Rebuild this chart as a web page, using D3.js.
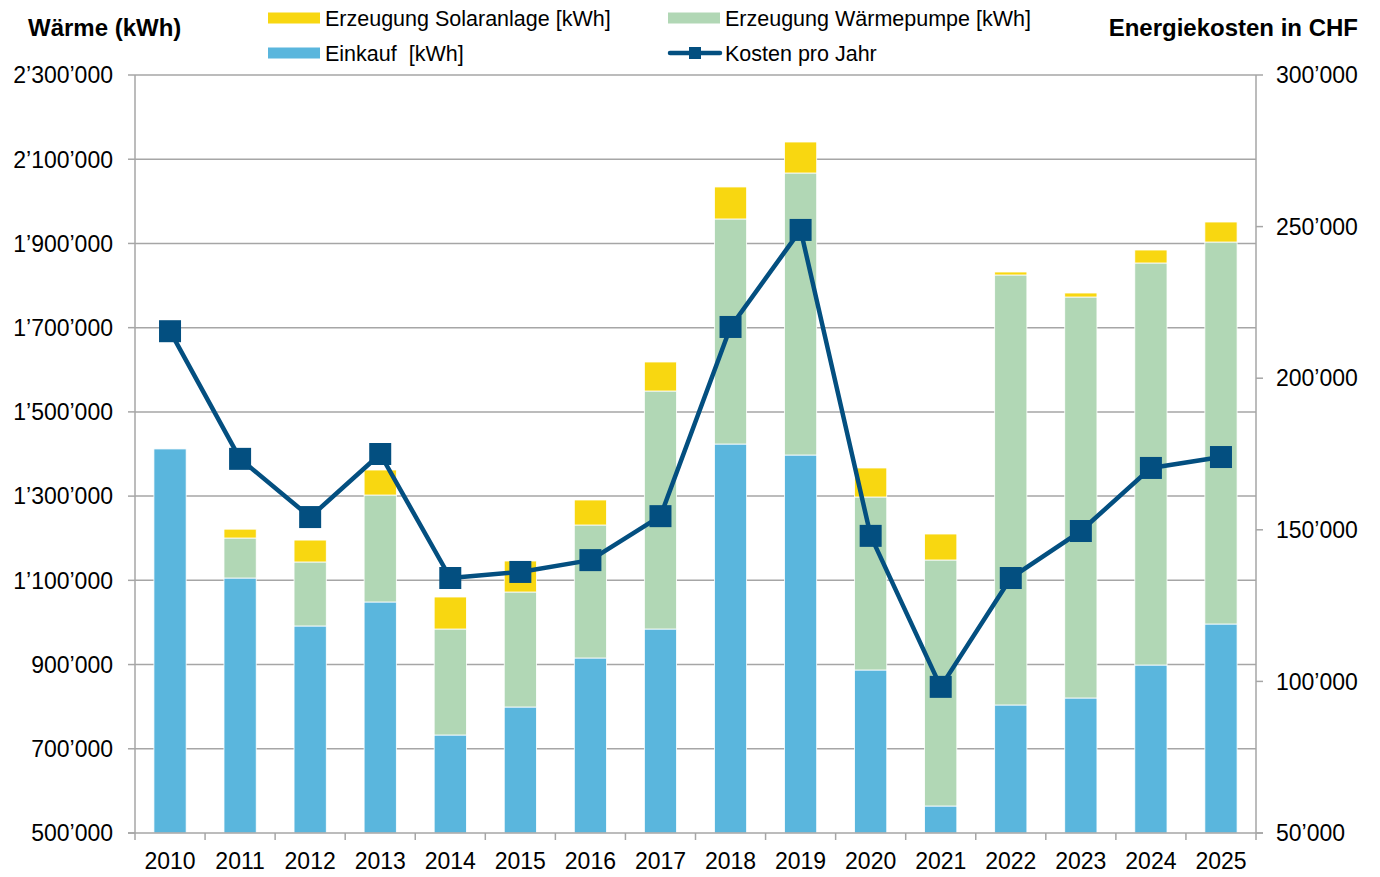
<!DOCTYPE html>
<html><head><meta charset="utf-8">
<script src="https://cdn.jsdelivr.net/npm/d3@7"></script>
<style>body{margin:0;background:#fff;font-family:"Liberation Sans",Arial,sans-serif;}</style>
</head><body><svg id="c" width="1380" height="877"></svg>
<script>
const years = ["2010","2011","2012","2013","2014","2015","2016","2017","2018","2019","2020","2021","2022","2023","2024","2025"];
const einkauf = [1412000,1105500,991600,1048600,732700,799200,915600,984400,1423700,1397600,887100,564100,804000,820600,898900,996300];
const waermepumpe = [0,95000,152000,254000,251700,273100,315800,565200,534400,669700,410800,584200,1021100,952200,954700,907100];
const solar = [0,21000,52000,59400,76000,73600,59400,68900,76000,73600,68900,61700,7100,9500,30800,47500];
const kosten = [215500,173400,154200,175000,134100,136100,140000,154500,216900,248900,148000,98200,134100,149600,170400,174000];
const leftTicks = [500000,700000,900000,1100000,1300000,1500000,1700000,1900000,2100000,2300000];
const rightTicks = [50000,100000,150000,200000,250000,300000];

const svg = d3.select("#c");
const L = 135, R = 1256, T = 75, B = 833;
const fmt = v => d3.format(",")(v).replace(/,/g, "\u2019");
const x = d3.scaleBand().domain(years).range([L, R]).paddingInner(0.54).paddingOuter(0.27);
const yL = d3.scaleLinear().domain([500000, 2300000]).range([B, T]);
const yR = d3.scaleLinear().domain([50000, 300000]).range([B, T]);
const xc = d3.scaleBand().domain(years).range([L, R]);
const yMin = yL.domain()[0];

// gridlines
svg.append("g").selectAll("line").data(leftTicks.slice(1)).join("line")
  .attr("x1", L).attr("x2", R).attr("y1", d => yL(d)).attr("y2", d => yL(d))
  .attr("stroke", "#a6a6a6").attr("stroke-width", 1.5);

// stacked bars
const stackData = years.map((y, i) => ({year: y, e: einkauf[i], w: waermepumpe[i], s: solar[i]}));
const stack = d3.stack().keys(["e","w","s"])(stackData);
const colors = {e: "#5ab6dd", w: "#b1d7b5", s: "#f8d711"};
svg.append("g").selectAll("g").data(stack).join("g").attr("fill", d => colors[d.key])
  .selectAll("rect").data(d => d.filter(s => s[1] - s[0] > 0)).join("rect")
  .attr("x", d => x(d.data.year)).attr("width", x.bandwidth())
  .attr("y", d => yL(d[1])).attr("height", d => yL(Math.max(d[0], yMin)) - yL(d[1]))
  .attr("stroke", "#ffffff").attr("stroke-width", 0.8);

// axes lines
const ax = svg.append("g").attr("stroke", "#a6a6a6").attr("stroke-width", 1.5);
ax.append("line").attr("x1", L).attr("x2", L).attr("y1", T).attr("y2", B);
ax.append("line").attr("x1", R).attr("x2", R).attr("y1", T).attr("y2", B);
ax.append("line").attr("x1", L - 7).attr("x2", R + 7).attr("y1", B).attr("y2", B);
ax.selectAll(".lt").data(leftTicks).join("line").attr("x1", L - 7).attr("x2", L).attr("y1", d => yL(d)).attr("y2", d => yL(d));
ax.selectAll(".rt").data(rightTicks).join("line").attr("x1", R).attr("x2", R + 7).attr("y1", d => yR(d)).attr("y2", d => yR(d));
ax.selectAll(".xt").data(years.concat(["end"])).join("line")
  .attr("x1", (d, i) => L + i * xc.bandwidth()).attr("x2", (d, i) => L + i * xc.bandwidth())
  .attr("y1", B).attr("y2", B + 7);

// tick labels
svg.append("g").selectAll("text").data(leftTicks).join("text")
  .attr("x", 113).attr("y", d => yL(d)).attr("dy", "0.36em").attr("text-anchor", "end")
  .attr("font-size", 23).attr("fill", "#000").text(fmt);
svg.append("g").selectAll("text").data(rightTicks).join("text")
  .attr("x", 1276).attr("y", d => yR(d)).attr("dy", "0.36em").attr("text-anchor", "start")
  .attr("font-size", 23).attr("fill", "#000").text(fmt);
svg.append("g").selectAll("text").data(years).join("text")
  .attr("x", d => xc(d) + xc.bandwidth() / 2).attr("y", 869).attr("text-anchor", "middle")
  .attr("font-size", 23).attr("fill", "#000").text(d => d);

// line
const lineColor = "#034f80";
const pts = years.map((y, i) => [xc(y) + xc.bandwidth() / 2, yR(kosten[i])]);
svg.append("path").attr("d", d3.line()(pts)).attr("fill", "none")
  .attr("stroke", lineColor).attr("stroke-width", 4.5).attr("stroke-linejoin", "round");
svg.append("g").selectAll("rect").data(pts).join("rect")
  .attr("x", d => d[0] - 11).attr("y", d => d[1] - 11).attr("width", 22).attr("height", 22)
  .attr("fill", lineColor);

// titles
svg.append("text").attr("x", 28).attr("y", 36).attr("font-size", 24).attr("font-weight", "bold").text("Wärme (kWh)");
svg.append("text").attr("x", 1358).attr("y", 36).attr("text-anchor", "end").attr("font-size", 24).attr("font-weight", "bold").text("Energiekosten in CHF");

// legend
const leg = svg.append("g").attr("font-size", 21.5);
const items = [
  {t: "Erzeugung Solaranlage [kWh]", c: colors.s, x: 268, y: 18, type: "rect"},
  {t: "Erzeugung Wärmepumpe [kWh]", c: colors.w, x: 668, y: 18, type: "rect"},
  {t: "Einkauf  [kWh]", c: colors.e, x: 268, y: 53, type: "rect"},
  {t: "Kosten pro Jahr", c: lineColor, x: 668, y: 53, type: "line"}
];
items.forEach(it => {
  if (it.type === "rect") {
    leg.append("rect").attr("x", it.x).attr("y", it.y - 5.5).attr("width", 52).attr("height", 11).attr("fill", it.c);
  } else {
    leg.append("line").attr("x1", it.x + 2).attr("x2", it.x + 52).attr("y1", it.y).attr("y2", it.y)
      .attr("stroke", it.c).attr("stroke-width", 4.5).attr("stroke-linecap", "round");
    leg.append("rect").attr("x", it.x + 21).attr("y", it.y - 6).attr("width", 12).attr("height", 12).attr("fill", it.c);
  }
  leg.append("text").attr("x", it.x + 57).attr("y", it.y).attr("dy", "0.36em").attr("fill", "#000")
    .style("white-space", "pre").text(it.t);
});
</script></body></html>
